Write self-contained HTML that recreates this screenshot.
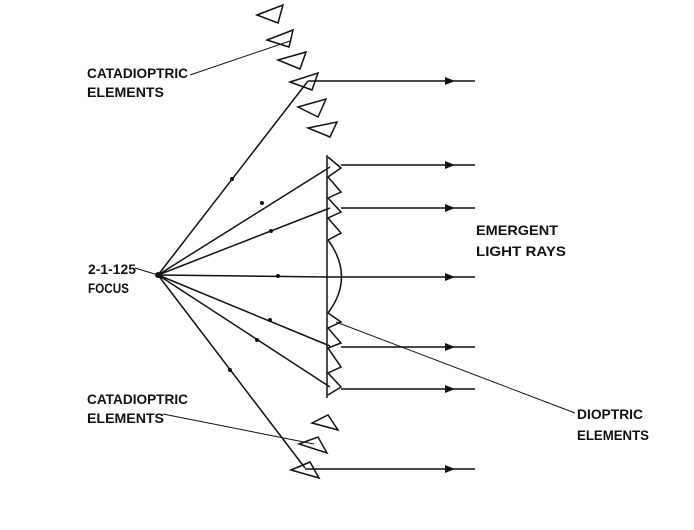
<!DOCTYPE html>
<html><head><meta charset="utf-8"><style>
html,body{margin:0;padding:0;background:#fff;}
svg text{font-family:"Liberation Sans",sans-serif;font-weight:bold;font-size:14px;fill:#111;}
</style></head><body>
<svg width="694" height="525" viewBox="0 0 694 525" xmlns="http://www.w3.org/2000/svg">
<g stroke="#111" stroke-width="1.5" fill="none">
<polygon points="257,15 283,5 278,23"/>
<polygon points="267,40 293,30 289,47"/>
<polygon points="278,60 306,52 300,69"/>
<polygon points="290,82 318,73 312,90"/>
<polygon points="298,107 326,99 318,117"/>
<polygon points="308,128 337,122 330,137"/>
<polygon points="312,423 328,415 338,430"/>
<polygon points="299,444 318,437 327,453"/>
<polygon points="291,470 310,462 319,478"/>
<line x1="327" y1="155" x2="327" y2="398"/>
<polyline points="328,157 341,168 328,177 341,192 328,198 341,212 328,218 341,233 328,240"/>
<path d="M328,240 Q355,277 328,313"/>
<polyline points="328,313 341,322 328,328 341,343 328,348 341,367 328,373 341,387 328,395"/>
<line x1="158" y1="275" x2="308" y2="81"/>
<line x1="158" y1="275" x2="330" y2="167"/>
<line x1="158" y1="275" x2="330" y2="208"/>
<line x1="158" y1="275" x2="327" y2="277"/>
<line x1="158" y1="275" x2="330" y2="346"/>
<line x1="158" y1="275" x2="330" y2="387"/>
<line x1="158" y1="275" x2="305" y2="468"/>
<line x1="308" y1="81" x2="475" y2="81"/>
<line x1="341" y1="165" x2="475" y2="165"/>
<line x1="341" y1="208" x2="475" y2="208"/>
<line x1="327" y1="277" x2="475" y2="277"/>
<line x1="341" y1="347" x2="475" y2="347"/>
<line x1="341" y1="389" x2="475" y2="389"/>
<line x1="305" y1="469" x2="475" y2="469"/>
</g>
<g stroke="#111" stroke-width="1" fill="none">
<line x1="190" y1="75" x2="290" y2="41"/>
<line x1="163" y1="414" x2="314" y2="444"/>
<line x1="135" y1="268" x2="158" y2="275"/>
<line x1="575" y1="413" x2="336" y2="322"/>
</g>
<g fill="#111">
<circle cx="158" cy="275" r="3"/>
<path d="M445,77 L455,81 L445,85z"/><path d="M445,161 L455,165 L445,169z"/><path d="M445,204 L455,208 L445,212z"/>
<path d="M445,273 L455,277 L445,281z"/><path d="M445,343 L455,347 L445,351z"/><path d="M445,385 L455,389 L445,393z"/><path d="M445,465 L455,469 L445,473z"/>
<circle cx="232" cy="179" r="2"/><circle cx="262" cy="203" r="2"/><circle cx="271" cy="231" r="2"/><circle cx="278" cy="276" r="2"/><circle cx="270" cy="320" r="2"/><circle cx="257" cy="340" r="2"/><circle cx="230" cy="370" r="2"/>
</g>
<text x="87" y="78" textLength="101" lengthAdjust="spacingAndGlyphs">CATADIOPTRIC</text>
<text x="87" y="97" textLength="77" lengthAdjust="spacingAndGlyphs">ELEMENTS</text>
<text x="87" y="404" textLength="101" lengthAdjust="spacingAndGlyphs">CATADIOPTRIC</text>
<text x="87" y="423" textLength="77" lengthAdjust="spacingAndGlyphs">ELEMENTS</text>
<text x="88" y="274" textLength="48" lengthAdjust="spacingAndGlyphs">2-1-125</text>
<text x="88" y="293" textLength="41" lengthAdjust="spacingAndGlyphs">FOCUS</text>
<text x="476" y="235" textLength="82" lengthAdjust="spacingAndGlyphs">EMERGENT</text>
<text x="476" y="256" textLength="90" lengthAdjust="spacingAndGlyphs">LIGHT RAYS</text>
<text x="577" y="419" textLength="66" lengthAdjust="spacingAndGlyphs">DIOPTRIC</text>
<text x="577" y="440" textLength="72" lengthAdjust="spacingAndGlyphs">ELEMENTS</text>
</svg>
</body></html>
